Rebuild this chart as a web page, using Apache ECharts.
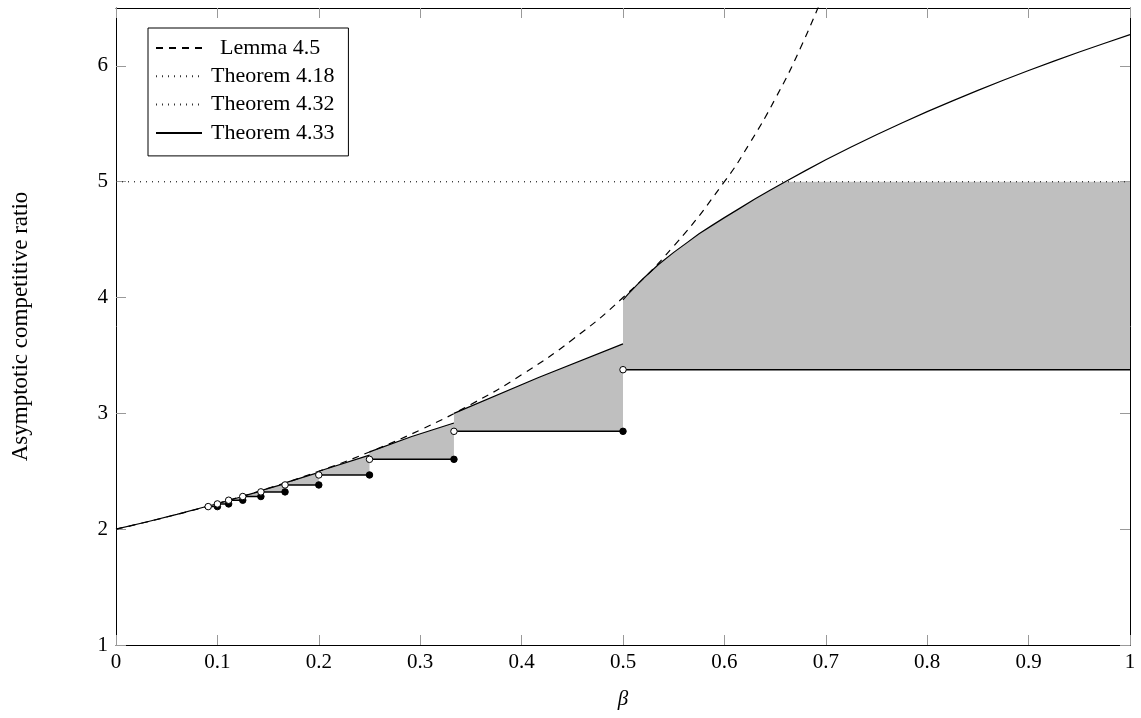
<!DOCTYPE html>
<html>
<head>
<meta charset="utf-8">
<script src="https://cdn.jsdelivr.net/npm/echarts@6/dist/echarts.min.js"></script>
<style>
html,body{margin:0;padding:0;background:#fff;}
#chart{width:1141px;height:718px;}
</style>
</head>
<body>
<div id="chart"></div>
<script>
// ---- data ----
const xTicks = [0, 0.1, 0.2, 0.3, 0.4, 0.5, 0.6, 0.7, 0.8, 0.9, 1];
const yTicks = [1, 2, 3, 4, 5, 6];

// Lemma 4.5 (dashed)
const lemma45 = [[0,2.0],[0.05,2.105],[0.1,2.222],[0.15,2.353],[0.2,2.5],[0.25,2.667],[0.3,2.857],[0.35,3.077],[0.4,3.333],[0.45,3.636],[0.5,4.0],[0.55,4.444],[0.6,5.0],[0.625,5.333],[0.65,5.714],[0.675,6.154],[0.7,6.667]];
// Theorem 4.18 / 4.32 (dotted)
const thm418 = [[0,5],[1,5]];
const thm432 = [[0,5],[1,5]];
// Theorem 4.33 (solid) : initial part and upper parts of each step
const thm433Start = [[0,2.0],[0.03,2.062],[0.06,2.128],[0.0909,2.2]];
const stepStart = [0.0909, 0.1, 0.1111, 0.125, 0.1429, 0.1667, 0.2, 0.25, 0.3333, 0.5];
const stepEnd   = [0.1, 0.1111, 0.125, 0.1429, 0.1667, 0.2, 0.25, 0.3333, 0.5, 1.0];
const stepLower = [2.195, 2.218, 2.25, 2.282, 2.322, 2.382, 2.468, 2.603, 2.845, 3.377];
const stepUpper = [
  [[0.0909,2.2],[0.1,2.218]],
  [[0.1,2.222],[0.1111,2.247]],
  [[0.1111,2.25],[0.125,2.282]],
  [[0.125,2.286],[0.1429,2.328]],
  [[0.1429,2.333],[0.1667,2.393]],
  [[0.1667,2.4],[0.2,2.49]],
  [[0.2,2.5],[0.25,2.64]],
  [[0.25,2.667],[0.2917,2.80],[0.3333,2.917]],
  [[0.3333,3.0],[0.4167,3.31],[0.5,3.6]],
  [[0.5,3.98],[0.505,4.029],[0.51,4.075],[0.52,4.165],[0.535,4.285],[0.55,4.39],[0.5625,4.47],[0.575,4.55],[0.5875,4.621],[0.6,4.69],[0.615,4.77],[0.63,4.85],[0.645,4.926],[0.66,5.0],[0.68,5.096],[0.7,5.19],[0.725,5.30],[0.75,5.406],[0.775,5.507],[0.8,5.605],[0.825,5.698],[0.85,5.789],[0.875,5.876],[0.9,5.96],[0.925,6.041],[0.95,6.12],[0.975,6.196],[1.0,6.27]]
];
const capLevel = 5;

// ---- chart ----
const FONT = 'Liberation Serif';
const chart = echarts.init(document.getElementById('chart'), null, {renderer:'canvas'});

const axisCommon = {
  type: 'value',
  splitLine: {show:false},
  axisLine: {show:true, onZero:false, lineStyle:{color:'#000', width:1}},
  axisTick: {show:true, inside:true, length:10, lineStyle:{color:'#999', width:1}},
};

const series = [];

// gray region
series.push({
  type:'custom', name:'region', silent:true, z:1,
  clip:true,
  renderItem: function(params, api){
    const i = params.dataIndex;
    const pts = stepUpper[i].map(p => api.coord([p[0], Math.min(p[1], capLevel)]));
    pts.push(api.coord([stepEnd[i], stepLower[i]]));
    pts.push(api.coord([stepStart[i], stepLower[i]]));
    return {type:'polygon', shape:{points:pts}, style:{fill:'#bfbfbf', stroke:null}};
  },
  data: stepLower.map((v,i)=>[stepStart[i], v])
});

const lineBase = {type:'line', symbol:'none', silent:true, animation:false,
  itemStyle:{color:'rgba(0,0,0,0)', borderColor:'rgba(0,0,0,0)', borderWidth:0}};

series.push(Object.assign({}, lineBase, {name:'Theorem 4.18', z:3, data:thm418,
  lineStyle:{color:'#333', width:1, type:[1,5]}}));
series.push(Object.assign({}, lineBase, {name:'Theorem 4.32', z:3, data:thm432,
  lineStyle:{color:'#333', width:1, type:[1,5]}}));
series.push(Object.assign({}, lineBase, {name:'Lemma 4.5', z:4, data:lemma45, smooth:true,
  lineStyle:{color:'#000', width:1.2, type:[7,6]}}));

series.push(Object.assign({}, lineBase, {name:'Theorem 4.33', z:5, data:thm433Start,
  lineStyle:{color:'#000', width:1.2}}));
stepUpper.forEach(seg => {
  series.push(Object.assign({}, lineBase, {name:'Theorem 4.33', z:5, data:seg,
    lineStyle:{color:'#000', width:1.2}}));
});
// lower step lines
stepLower.forEach((v,i) => {
  series.push(Object.assign({}, lineBase, {name:'steps', z:6,
    data:[[stepStart[i], v],[stepEnd[i], v]],
    lineStyle:{color:'#000', width:1.5}}));
});
// circles
series.push({type:'scatter', name:'closed', z:8, silent:true, symbol:'circle', symbolSize:6.5,
  itemStyle:{color:'#000', borderColor:'#000', borderWidth:1, opacity:1},
  data: stepLower.slice(0, stepLower.length-1).map((v,i)=>[stepEnd[i], v])});
series.push({type:'scatter', name:'open', z:8, silent:true, symbol:'circle', symbolSize:6.5,
  itemStyle:{color:'#fff', borderColor:'#000', borderWidth:1, opacity:1},
  data: stepLower.map((v,i)=>[stepStart[i], v])});

chart.setOption({
  animation:false,
  backgroundColor:'#fff',
  textStyle:{fontFamily:FONT},
  grid:{left:116, right:11, top:8, bottom:73, containLabel:false},
  legend:{
    orient:'vertical', left:148, top:28,
    backgroundColor:'#fff', borderColor:'#000', borderWidth:1, borderRadius:0,
    padding:[9, 14, 12, 7],
    itemWidth:46, itemHeight:14, itemGap:6.3,
    selectedMode:false,
    textStyle:{fontFamily:FONT, fontSize:22, color:'#000', lineHeight:20, padding:[0,0,0,4]},
    data:[
      {name:'Lemma 4.5', textStyle:{padding:[0,0,0,13]}},
      {name:'Theorem 4.18'},
      {name:'Theorem 4.32'},
      {name:'Theorem 4.33'}
    ]
  },
  xAxis:[
    Object.assign({}, axisCommon, {min:0, max:1, interval:0.1, position:'bottom',
      name:'β', nameLocation:'middle', nameGap:44,
      nameTextStyle:{fontFamily:FONT, fontSize:21, fontStyle:'italic', color:'#000'},
      axisLabel:{show:true, margin:7, color:'#000', fontFamily:FONT, fontSize:21}}),
    Object.assign({}, axisCommon, {min:0, max:1, interval:0.1, position:'top',
      axisLabel:{show:false}})
  ],
  yAxis:[
    Object.assign({}, axisCommon, {min:1, max:6.5, interval:1, position:'left',
      name:'Asymptotic competitive ratio', nameLocation:'middle', nameGap:84,
      nameTextStyle:{fontFamily:FONT, fontSize:23, color:'#000'},
      axisTick:{show:true, inside:true, length:10, customValues:yTicks, lineStyle:{color:'#999', width:1}},
      axisLabel:{show:true, margin:8, color:'#000', fontFamily:FONT, fontSize:21, customValues:yTicks}}),
    Object.assign({}, axisCommon, {min:1, max:6.5, interval:1, position:'right',
      axisTick:{show:true, inside:true, length:10, customValues:yTicks, lineStyle:{color:'#999', width:1}},
      axisLabel:{show:false}})
  ],
  series: series
});
</script>
</body>
</html>
